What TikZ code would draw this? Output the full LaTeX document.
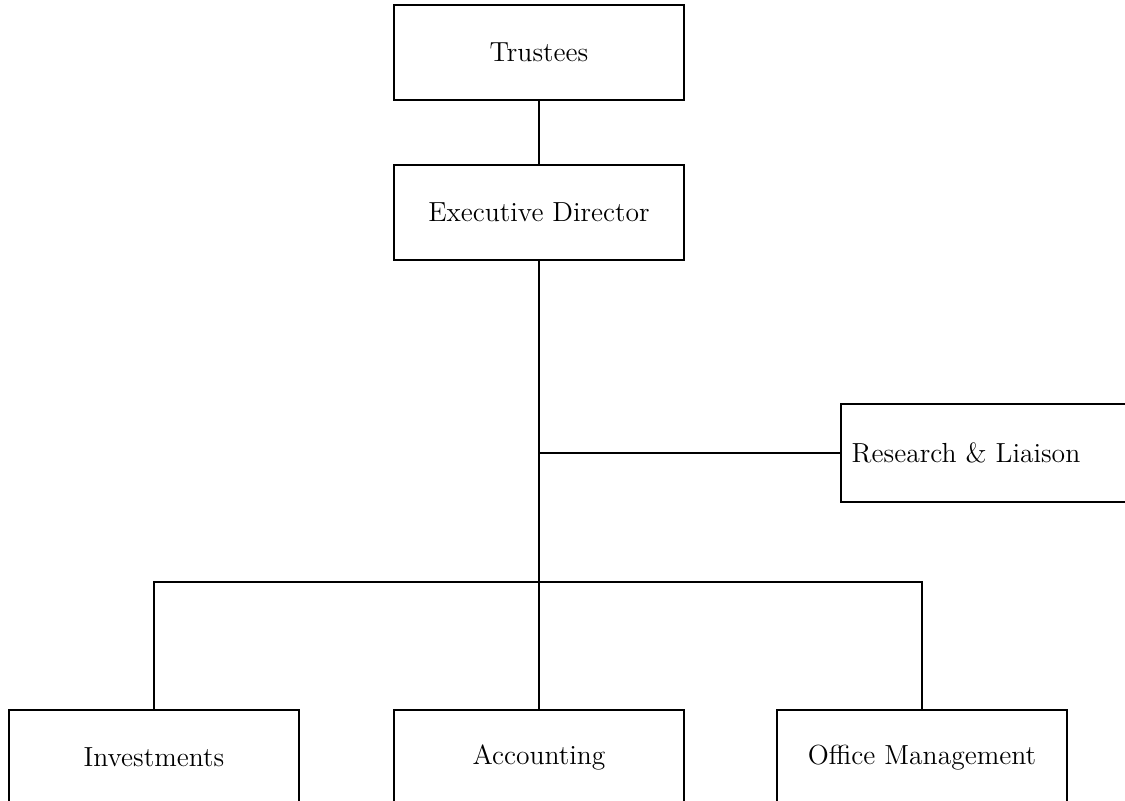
\documentclass[tikz,border=0pt]{standalone}
\usetikzlibrary{positioning}

\tikzset{
  unit/.style={draw, line width=0.9pt, minimum width=145pt, minimum height=47.5pt,
    inner sep=0pt, font=\fontsize{13.8}{16}\selectfont},
  link/.style={line width=0.9pt}
}

\begin{document}
\begin{tikzpicture}[x=0.5pt, y=-0.5pt]
  \useasboundingbox (0,0) rectangle (1125,800);

  % ---------- Top of the chart ----------
  \node[unit] (trustees) at (539,52.5) {Trustees};
  \node[unit] (director) at (539,212.5) {Executive Director};
  \node[unit, minimum height=49pt] (research) at (986,453) {Research \& Liaison\hspace*{20pt}};

  % ---------- Departments ----------
  \node[unit] (invest) at (154,757.5) {Investments};
  \node[unit] (account) at (539,757.5) {Accounting};
  \node[unit] (office) at (922,757.5) {Office Management};

  % ---------- Connectors ----------
  \coordinate (split) at (539,582);
  \draw[link] (trustees) -- (director);
  \draw[link] (director.south) -- (account.north);
  \draw[link] (director.south |- research.west) -- (research.west);
  \draw[link] (invest.north) |- (split) -| (office.north);
\end{tikzpicture}
\end{document}
